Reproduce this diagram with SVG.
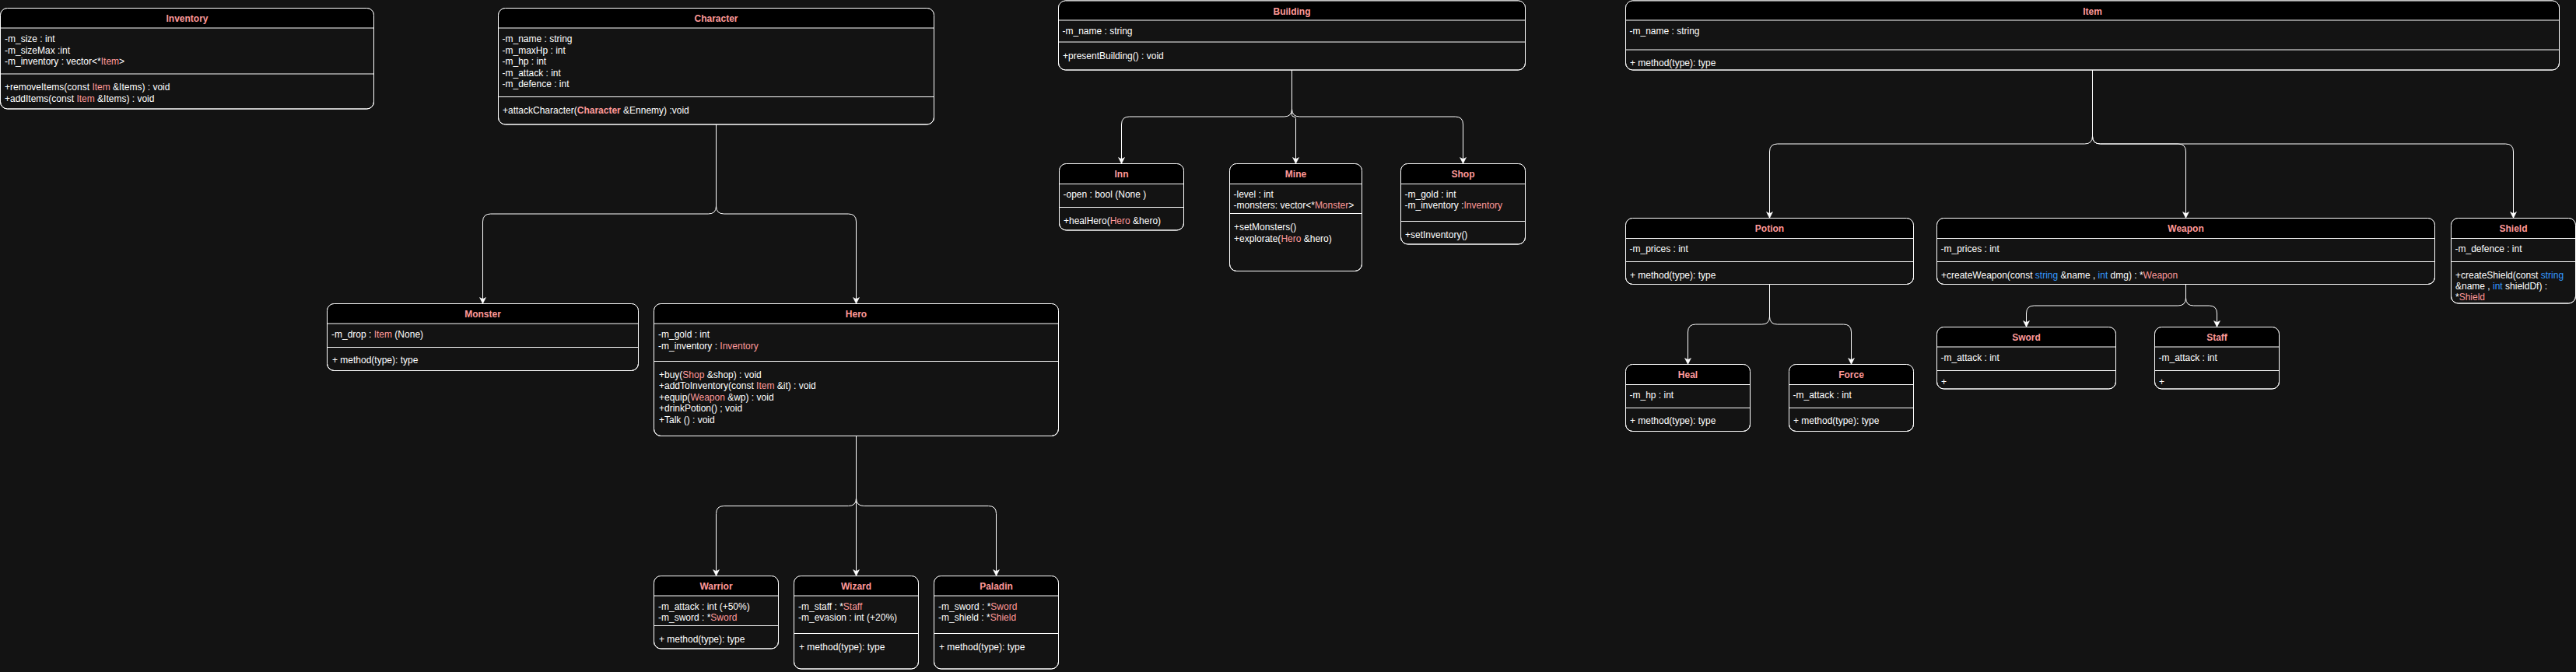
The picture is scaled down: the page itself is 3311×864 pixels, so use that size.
<svg xmlns="http://www.w3.org/2000/svg" width="3311" height="864" viewBox="0 0 3311 864">
<style>
.bg{fill:#131313}
.box{fill:#131313;stroke:#ffffff;stroke-width:1}
.hdr{fill:#000000}
.frame{fill:none;stroke:#ffffff;stroke-width:1}
.sep{stroke:#ffffff;stroke-width:1}
text{font-family:"Liberation Sans",Arial,Helvetica,sans-serif;font-size:12px;fill:#ffffff}
.ti{font-weight:bold;fill:#FF9999;text-anchor:middle}
.r{fill:#FF9999}
.rb{fill:#FF9999;font-weight:bold}
.b{fill:#3399FF}
.edge{fill:none;stroke:#ffffff;stroke-width:1;marker-end:url(#arr)}
</style>
<defs>
<marker id="arr" markerUnits="userSpaceOnUse" markerWidth="10" markerHeight="10" viewBox="0 0 10 10" refX="9" refY="5" orient="auto">
<path d="M1,1 L9,5 L1,9 L3,5 Z" fill="#ffffff" stroke="#ffffff" stroke-width="0.5"/>
</marker>
</defs>
<rect class="bg" x="0" y="0" width="3311" height="864"/>

<g id="connectors">
<path class="edge" d="M920.5,160 V265 Q920.5,275 910.5,275 H630.5 Q620.5,275 620.5,285 V390.5"/>
<path class="edge" d="M920.5,160 V265 Q920.5,275 930.5,275 H1090.5 Q1100.5,275 1100.5,285 V390.5"/>
<path class="edge" d="M1100.5,560.5 V640.5 Q1100.5,650.5 1090.5,650.5 H930.5 Q920.5,650.5 920.5,660.5 V740.5"/>
<path class="edge" d="M1100.5,560.5 V740.5"/>
<path class="edge" d="M1100.5,560.5 V640.5 Q1100.5,650.5 1110.5,650.5 H1270.5 Q1280.5,650.5 1280.5,660.5 V740.5"/>
<path class="edge" d="M1660.5,90 V140 Q1660.5,150 1650.5,150 H1451.5 Q1441.5,150 1441.5,160 V210.5"/>
<path class="edge" d="M1660.5,90 V147.5 Q1660.5,150 1663,150 Q1665.5,150 1665.5,152.5 V210.5"/>
<path class="edge" d="M1660.5,90 V140 Q1660.5,150 1670.5,150 H1870.5 Q1880.5,150 1880.5,160 V210.5"/>
<path class="edge" d="M2689.5,90 V175 Q2689.5,185 2679.5,185 H2284.5 Q2274.5,185 2274.5,195 V280.5"/>
<path class="edge" d="M2689.5,90 V175 Q2689.5,185 2699.5,185 H2799.5 Q2809.5,185 2809.5,195 V280.5"/>
<path class="edge" d="M2689.5,90 V175 Q2689.5,185 2699.5,185 H3220.5 Q3230.5,185 3230.5,195 V280.5"/>
<path class="edge" d="M2274.5,365.5 V407 Q2274.5,417 2264.5,417 H2179.5 Q2169.5,417 2169.5,427 V468.5"/>
<path class="edge" d="M2274.5,365.5 V407 Q2274.5,417 2284.5,417 H2369.5 Q2379.5,417 2379.5,427 V468.5"/>
<path class="edge" d="M2809.5,365.5 V383 Q2809.5,393 2799.5,393 H2614.5 Q2604.5,393 2604.5,403 V420.5"/>
<path class="edge" d="M2809.5,365.5 V383 Q2809.5,393 2819.5,393 H2839.5 Q2849.5,393 2849.5,403 V420.5"/>
</g>

<g id="Inventory">
<rect class="box" x="0.5" y="10.5" width="480" height="129.5" rx="9"/>
<path class="hdr" d="M0.5,36 V19.5 Q0.5,10.5 9.5,10.5 H471.5 Q480.5,10.5 480.5,19.5 V36 Z"/>
<rect class="frame" x="0.5" y="10.5" width="480" height="129.5" rx="9"/>
<line class="sep" x1="0.5" y1="36" x2="480.5" y2="36"/>
<line class="sep" x1="0.5" y1="95" x2="480.5" y2="95"/>
<text class="ti" x="240.5" y="28">Inventory</text>
<text x="6" y="54">-m_size : int</text>
<text x="6" y="68.5">-m_sizeMax :int</text>
<text x="6" y="83">-m_inventory : vector&lt;*<tspan class="r">Item</tspan>&gt;</text>
<text x="6" y="116">+removeItems(const <tspan class="r">Item</tspan> &amp;Items) : void</text>
<text x="6" y="130.5">+addItems(const <tspan class="r">Item</tspan> &amp;Items) : void</text>
</g>

<g id="Character">
<rect class="box" x="640.5" y="10.5" width="560" height="149.5" rx="9"/>
<path class="hdr" d="M640.5,36 V19.5 Q640.5,10.5 649.5,10.5 H1191.5 Q1200.5,10.5 1200.5,19.5 V36 Z"/>
<rect class="frame" x="640.5" y="10.5" width="560" height="149.5" rx="9"/>
<line class="sep" x1="640.5" y1="36" x2="1200.5" y2="36"/>
<line class="sep" x1="640.5" y1="124.5" x2="1200.5" y2="124.5"/>
<text class="ti" x="920.5" y="28">Character</text>
<text x="645.5" y="54">-m_name : string</text>
<text x="645.5" y="68.5">-m_maxHp : int</text>
<text x="645.5" y="83">-m_hp : int</text>
<text x="645.5" y="97.5">-m_attack : int</text>
<text x="645.5" y="112">-m_defence : int</text>
<text x="646" y="145.5">+attackCharacter(<tspan class="rb">Character</tspan> &amp;Ennemy) :void</text>
</g>

<g id="Building">
<rect class="box" x="1360.5" y="1" width="600" height="89" rx="9"/>
<path class="hdr" d="M1360.5,26 V10 Q1360.5,1 1369.5,1 H1951.5 Q1960.5,1 1960.5,10 V26 Z"/>
<rect class="frame" x="1360.5" y="1" width="600" height="89" rx="9"/>
<line class="sep" x1="1360.5" y1="26" x2="1960.5" y2="26"/>
<line class="sep" x1="1360.5" y1="54" x2="1960.5" y2="54"/>
<text class="ti" x="1660.5" y="18.5">Building</text>
<text x="1365.5" y="44">-m_name : string</text>
<text x="1366" y="76">+presentBuilding() : void</text>
</g>

<g id="Inn">
<rect class="box" x="1361.5" y="210.5" width="160" height="85.5" rx="9"/>
<path class="hdr" d="M1361.5,236.5 V219.5 Q1361.5,210.5 1370.5,210.5 H1512.5 Q1521.5,210.5 1521.5,219.5 V236.5 Z"/>
<rect class="frame" x="1361.5" y="210.5" width="160" height="85.5" rx="9"/>
<line class="sep" x1="1361.5" y1="236.5" x2="1521.5" y2="236.5"/>
<line class="sep" x1="1361.5" y1="266.5" x2="1521.5" y2="266.5"/>
<text class="ti" x="1441.5" y="228">Inn</text>
<text x="1366.5" y="253.5">-open : bool (None )</text>
<text x="1367" y="288">+healHero(<tspan class="r">Hero</tspan> &amp;hero)</text>
</g>

<g id="Mine">
<rect class="box" x="1580.5" y="210.5" width="170" height="138" rx="9"/>
<path class="hdr" d="M1580.5,236.5 V219.5 Q1580.5,210.5 1589.5,210.5 H1741.5 Q1750.5,210.5 1750.5,219.5 V236.5 Z"/>
<rect class="frame" x="1580.5" y="210.5" width="170" height="138" rx="9"/>
<line class="sep" x1="1580.5" y1="236.5" x2="1750.5" y2="236.5"/>
<line class="sep" x1="1580.5" y1="274.5" x2="1750.5" y2="274.5"/>
<text class="ti" x="1665.5" y="228">Mine</text>
<text x="1585.5" y="253.5">-level : int</text>
<text x="1585.5" y="268">-monsters: vector&lt;*<tspan class="r">Monster</tspan>&gt;</text>
<text x="1586" y="296">+setMonsters()</text>
<text x="1586" y="310.5">+explorate(<tspan class="r">Hero</tspan> &amp;hero)</text>
</g>

<g id="Shop">
<rect class="box" x="1800.5" y="210.5" width="160" height="103.5" rx="9"/>
<path class="hdr" d="M1800.5,236.5 V219.5 Q1800.5,210.5 1809.5,210.5 H1951.5 Q1960.5,210.5 1960.5,219.5 V236.5 Z"/>
<rect class="frame" x="1800.5" y="210.5" width="160" height="103.5" rx="9"/>
<line class="sep" x1="1800.5" y1="236.5" x2="1960.5" y2="236.5"/>
<line class="sep" x1="1800.5" y1="284.5" x2="1960.5" y2="284.5"/>
<text class="ti" x="1880.5" y="228">Shop</text>
<text x="1805.5" y="253.5">-m_gold : int</text>
<text x="1805.5" y="268">-m_inventory :<tspan class="r">Inventory</tspan></text>
<text x="1806" y="306">+setInventory()</text>
</g>

<g id="Item">
<rect class="box" x="2089.5" y="1" width="1200" height="89" rx="9"/>
<path class="hdr" d="M2089.5,26 V10 Q2089.5,1 2098.5,1 H3280.5 Q3289.5,1 3289.5,10 V26 Z"/>
<rect class="frame" x="2089.5" y="1" width="1200" height="89" rx="9"/>
<line class="sep" x1="2089.5" y1="26" x2="3289.5" y2="26"/>
<line class="sep" x1="2089.5" y1="64" x2="3289.5" y2="64"/>
<text class="ti" x="2689.5" y="18.5">Item</text>
<text x="2094.5" y="44">-m_name : string</text>
<text x="2095" y="85">+ method(type): type</text>
</g>

<g id="Potion">
<rect class="box" x="2089.5" y="280.5" width="370" height="85" rx="9"/>
<path class="hdr" d="M2089.5,306.5 V289.5 Q2089.5,280.5 2098.5,280.5 H2450.5 Q2459.5,280.5 2459.5,289.5 V306.5 Z"/>
<rect class="frame" x="2089.5" y="280.5" width="370" height="85" rx="9"/>
<line class="sep" x1="2089.5" y1="306.5" x2="2459.5" y2="306.5"/>
<line class="sep" x1="2089.5" y1="336.5" x2="2459.5" y2="336.5"/>
<text class="ti" x="2274.5" y="298">Potion</text>
<text x="2094.5" y="323.5">-m_prices : int</text>
<text x="2095" y="358">+ method(type): type</text>
</g>

<g id="Weapon">
<rect class="box" x="2489.5" y="280.5" width="640" height="85" rx="9"/>
<path class="hdr" d="M2489.5,306.5 V289.5 Q2489.5,280.5 2498.5,280.5 H3120.5 Q3129.5,280.5 3129.5,289.5 V306.5 Z"/>
<rect class="frame" x="2489.5" y="280.5" width="640" height="85" rx="9"/>
<line class="sep" x1="2489.5" y1="306.5" x2="3129.5" y2="306.5"/>
<line class="sep" x1="2489.5" y1="336.5" x2="3129.5" y2="336.5"/>
<text class="ti" x="2809.5" y="298">Weapon</text>
<text x="2494.5" y="323.5">-m_prices : int</text>
<text x="2495" y="358">+createWeapon(const <tspan class="b">string</tspan> &amp;name , <tspan class="b">int</tspan> dmg) : *<tspan class="r">Weapon</tspan></text>
</g>

<g id="Shield">
<rect class="box" x="3150.5" y="280.5" width="160" height="109.5" rx="9"/>
<path class="hdr" d="M3150.5,306.5 V289.5 Q3150.5,280.5 3159.5,280.5 H3301.5 Q3310.5,280.5 3310.5,289.5 V306.5 Z"/>
<rect class="frame" x="3150.5" y="280.5" width="160" height="109.5" rx="9"/>
<line class="sep" x1="3150.5" y1="306.5" x2="3310.5" y2="306.5"/>
<line class="sep" x1="3150.5" y1="336.5" x2="3310.5" y2="336.5"/>
<text class="ti" x="3230.5" y="298">Shield</text>
<text x="3155.5" y="323.5">-m_defence : int</text>
<text x="3156" y="358">+createShield(const <tspan class="b">string</tspan></text>
<text x="3156" y="372">&amp;name , <tspan class="b">int</tspan> shieldDf) :</text>
<text x="3156" y="386">*<tspan class="r">Shield</tspan></text>
</g>

<g id="Heal">
<rect class="box" x="2089.5" y="468.5" width="160" height="86" rx="9"/>
<path class="hdr" d="M2089.5,494.5 V477.5 Q2089.5,468.5 2098.5,468.5 H2240.5 Q2249.5,468.5 2249.5,477.5 V494.5 Z"/>
<rect class="frame" x="2089.5" y="468.5" width="160" height="86" rx="9"/>
<line class="sep" x1="2089.5" y1="494.5" x2="2249.5" y2="494.5"/>
<line class="sep" x1="2089.5" y1="524.5" x2="2249.5" y2="524.5"/>
<text class="ti" x="2169.5" y="486">Heal</text>
<text x="2094.5" y="511.5">-m_hp : int</text>
<text x="2095" y="545">+ method(type): type</text>
</g>

<g id="Force">
<rect class="box" x="2299.5" y="468.5" width="160" height="86" rx="9"/>
<path class="hdr" d="M2299.5,494.5 V477.5 Q2299.5,468.5 2308.5,468.5 H2450.5 Q2459.5,468.5 2459.5,477.5 V494.5 Z"/>
<rect class="frame" x="2299.5" y="468.5" width="160" height="86" rx="9"/>
<line class="sep" x1="2299.5" y1="494.5" x2="2459.5" y2="494.5"/>
<line class="sep" x1="2299.5" y1="524.5" x2="2459.5" y2="524.5"/>
<text class="ti" x="2379.5" y="486">Force</text>
<text x="2304.5" y="511.5">-m_attack : int</text>
<text x="2305" y="545">+ method(type): type</text>
</g>

<g id="Sword">
<rect class="box" x="2489.5" y="420.5" width="230" height="79.5" rx="9"/>
<path class="hdr" d="M2489.5,446 V429.5 Q2489.5,420.5 2498.5,420.5 H2710.5 Q2719.5,420.5 2719.5,429.5 V446 Z"/>
<rect class="frame" x="2489.5" y="420.5" width="230" height="79.5" rx="9"/>
<line class="sep" x1="2489.5" y1="446" x2="2719.5" y2="446"/>
<line class="sep" x1="2489.5" y1="476.5" x2="2719.5" y2="476.5"/>
<text class="ti" x="2604.5" y="438">Sword</text>
<text x="2494.5" y="463.5">-m_attack : int</text>
<text x="2495" y="495">+</text>
</g>

<g id="Staff">
<rect class="box" x="2769.5" y="420.5" width="160" height="79.5" rx="9"/>
<path class="hdr" d="M2769.5,446 V429.5 Q2769.5,420.5 2778.5,420.5 H2920.5 Q2929.5,420.5 2929.5,429.5 V446 Z"/>
<rect class="frame" x="2769.5" y="420.5" width="160" height="79.5" rx="9"/>
<line class="sep" x1="2769.5" y1="446" x2="2929.5" y2="446"/>
<line class="sep" x1="2769.5" y1="476.5" x2="2929.5" y2="476.5"/>
<text class="ti" x="2849.5" y="438">Staff</text>
<text x="2774.5" y="463.5">-m_attack : int</text>
<text x="2775" y="495">+</text>
</g>

<g id="Monster">
<rect class="box" x="420.5" y="390.5" width="400" height="86" rx="9"/>
<path class="hdr" d="M420.5,416 V399.5 Q420.5,390.5 429.5,390.5 H811.5 Q820.5,390.5 820.5,399.5 V416 Z"/>
<rect class="frame" x="420.5" y="390.5" width="400" height="86" rx="9"/>
<line class="sep" x1="420.5" y1="416" x2="820.5" y2="416"/>
<line class="sep" x1="420.5" y1="446.5" x2="820.5" y2="446.5"/>
<text class="ti" x="620.5" y="408">Monster</text>
<text x="426" y="434">-m_drop : <tspan class="r">Item</tspan> (None)</text>
<text x="427" y="467">+ method(type): type</text>
</g>

<g id="Hero">
<rect class="box" x="840.5" y="390.5" width="520" height="170" rx="9"/>
<path class="hdr" d="M840.5,416 V399.5 Q840.5,390.5 849.5,390.5 H1351.5 Q1360.5,390.5 1360.5,399.5 V416 Z"/>
<rect class="frame" x="840.5" y="390.5" width="520" height="170" rx="9"/>
<line class="sep" x1="840.5" y1="416" x2="1360.5" y2="416"/>
<line class="sep" x1="840.5" y1="464.5" x2="1360.5" y2="464.5"/>
<text class="ti" x="1100.5" y="408">Hero</text>
<text x="846" y="434">-m_gold : int</text>
<text x="846" y="448.5">-m_inventory  : <tspan class="r">Inventory</tspan></text>
<text x="847" y="485.5">+buy(<tspan class="r">Shop</tspan> &amp;shop) : void</text>
<text x="847" y="500">+addToInventory(const <tspan class="r">Item</tspan> &amp;it) : void</text>
<text x="847" y="514.5">+equip(<tspan class="r">Weapon</tspan> &amp;wp) : void</text>
<text x="847" y="529">+drinkPotion() ; void</text>
<text x="847" y="543.5">+Talk () : void</text>
</g>

<g id="Warrior">
<rect class="box" x="840.5" y="740.5" width="160" height="93.5" rx="9"/>
<path class="hdr" d="M840.5,766 V749.5 Q840.5,740.5 849.5,740.5 H991.5 Q1000.5,740.5 1000.5,749.5 V766 Z"/>
<rect class="frame" x="840.5" y="740.5" width="160" height="93.5" rx="9"/>
<line class="sep" x1="840.5" y1="766" x2="1000.5" y2="766"/>
<line class="sep" x1="840.5" y1="804.5" x2="1000.5" y2="804.5"/>
<text class="ti" x="920.5" y="758">Warrior</text>
<text x="846" y="784">-m_attack : int (+50%)</text>
<text x="846" y="798">-m_sword : *<tspan class="r">Sword</tspan></text>
<text x="847" y="826">+ method(type): type</text>
</g>

<g id="Wizard">
<rect class="box" x="1020.5" y="740.5" width="160" height="119.5" rx="9"/>
<path class="hdr" d="M1020.5,766 V749.5 Q1020.5,740.5 1029.5,740.5 H1171.5 Q1180.5,740.5 1180.5,749.5 V766 Z"/>
<rect class="frame" x="1020.5" y="740.5" width="160" height="119.5" rx="9"/>
<line class="sep" x1="1020.5" y1="766" x2="1180.5" y2="766"/>
<line class="sep" x1="1020.5" y1="814.5" x2="1180.5" y2="814.5"/>
<text class="ti" x="1100.5" y="758">Wizard</text>
<text x="1026" y="784">-m_staff : *<tspan class="r">Staff</tspan></text>
<text x="1026" y="798">-m_evasion : int (+20%)</text>
<text x="1027" y="835.5">+ method(type): type</text>
</g>

<g id="Paladin">
<rect class="box" x="1200.5" y="740.5" width="160" height="119.5" rx="9"/>
<path class="hdr" d="M1200.5,766 V749.5 Q1200.5,740.5 1209.5,740.5 H1351.5 Q1360.5,740.5 1360.5,749.5 V766 Z"/>
<rect class="frame" x="1200.5" y="740.5" width="160" height="119.5" rx="9"/>
<line class="sep" x1="1200.5" y1="766" x2="1360.5" y2="766"/>
<line class="sep" x1="1200.5" y1="814.5" x2="1360.5" y2="814.5"/>
<text class="ti" x="1280.5" y="758">Paladin</text>
<text x="1206" y="784">-m_sword : *<tspan class="r">Sword</tspan></text>
<text x="1206" y="798">-m_shield : *<tspan class="r">Shield</tspan></text>
<text x="1207" y="835.5">+ method(type): type</text>
</g>
</svg>
